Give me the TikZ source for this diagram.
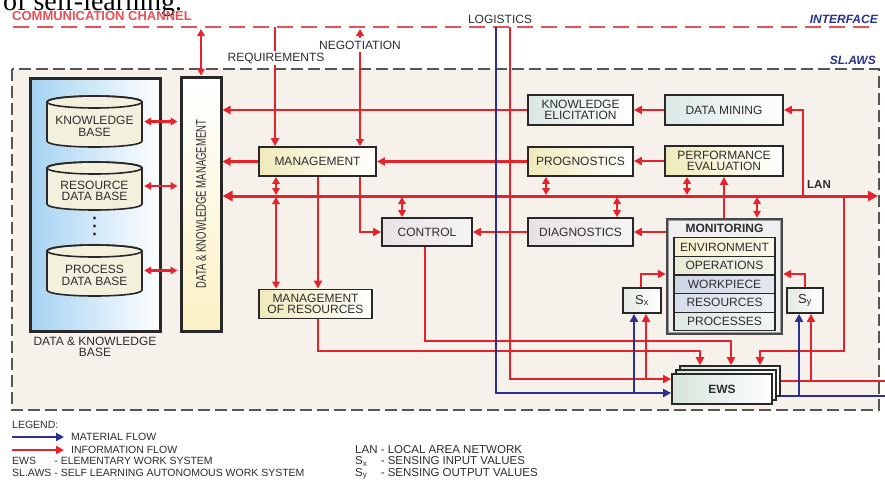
\documentclass[tikz,border=0pt]{standalone}
\usepackage{fontspec}
\setmainfont{Liberation Sans}
\newfontfamily\narrowsans{Liberation Sans}[FakeStretch=0.68]
\newfontfamily\serifface{Liberation Serif}
\usetikzlibrary{arrows.meta,calc}
\definecolor{redl}{RGB}{232,34,42}
\definecolor{bluel}{RGB}{44,48,148}
\definecolor{commred}{RGB}{232,80,88}
\definecolor{boxc}{RGB}{40,40,40}
\definecolor{txt}{RGB}{45,45,45}
\definecolor{bgc}{RGB}{246,241,235}
\definecolor{dashg}{RGB}{85,85,85}
\definecolor{yel}{RGB}{240,234,186}
\definecolor{kbl}{RGB}{218,232,228}
\definecolor{pk}{RGB}{232,226,230}
\definecolor{cylf}{RGB}{243,241,222}
\definecolor{dkbblue}{RGB}{165,210,242}
\definecolor{dkmy}{RGB}{250,242,196}
\definecolor{ewsg}{RGB}{214,228,218}
\definecolor{titleblue}{RGB}{40,50,140}
\definecolor{sxg}{RGB}{228,234,226}
\newcommand\lblfont{\fontsize{12}{11.5}\selectfont}
\newcommand\legfont{\fontsize{10.5}{11.8}\selectfont}
\newcommand\legfontr{\fontsize{11.5}{11.2}\selectfont}
\tikzset{
  lbl/.style={font=\lblfont, text=txt, align=center},
  box/.style={draw=boxc, line width=1.8pt, inner sep=1pt, lbl},
  rl/.style={draw=redl, line width=2.4pt},
  bl/.style={draw=bluel, line width=2.4pt},
  arr/.style={-{Triangle[length=8pt,width=8pt]}},
  darr/.style={{Triangle[length=7pt,width=7.5pt]}-{Triangle[length=7pt,width=7.5pt]}},
  rowbox/.style={draw=boxc, line width=1.2pt, minimum width=101pt, minimum height=18.6pt, inner sep=0pt, lbl},
}
% cylinder: name, cx, ytop, ybottom, text
\newcommand\dbcyl[5]{%
  \filldraw[fill=cylf, draw=boxc, line width=1.6pt]
    (#2-47.5,#3+6) -- (#2-47.5,#4-6)
    .. controls (#2-47.5,#4+2) and (#2+47.5,#4+2) .. (#2+47.5,#4-6)
    -- (#2+47.5,#3+6)
    .. controls (#2+47.5,#3-2) and (#2-47.5,#3-2) .. cycle;
  \draw[boxc, line width=1.6pt] (#2,#3+6) ellipse [x radius=47.5pt, y radius=6pt];
  \node[minimum width=95pt, minimum height=#4-#3, inner sep=0pt] (#1) at (#2,{(#3+#4)/2}) {};
  \node[lbl] at ([yshift=-5pt]#1.center) {#5};
}
\begin{document}
\begin{tikzpicture}[x=1pt,y=-1pt]
\useasboundingbox (0,0) rectangle (885,479);
\fill[white] (0,0) rectangle (885,479);

% clipped caption text at top
\node[anchor=base west, font=\serifface\fontsize{28}{28}\selectfont, inner sep=0pt, text depth=0pt] (captxt) at (3,10) {of self-learning.};

% SL.AWS boundary
\draw[dashg, line width=1.6pt, dash pattern=on 12pt off 5pt, fill=bgc] (12,69) rectangle (879,410);

% communication channel
\coordinate (commL) at (13,27);
\coordinate (commR) at (877,27);
\draw[commred, line width=2pt, dash pattern=on 16pt off 8pt] (commL) -- (commR);
\node[anchor=west, font=\bfseries\fontsize{13}{13}\selectfont, text=commred, inner sep=0pt] (commlbl) at (12,16.5) {COMMUNICATION CHANNEL};
\node[anchor=east, font=\bfseries\itshape\fontsize{12}{12}\selectfont, text=titleblue, inner sep=0pt] (iflbl) at (878,19) {INTERFACE};
\node[anchor=east, font=\bfseries\itshape\fontsize{12}{12}\selectfont, text=titleblue, inner sep=0pt] (slawslbl) at (876,60) {SL.AWS};
\node[lbl, inner sep=0pt] (loglbl) at (500,19) {LOGISTICS};

% Data & knowledge base
\node[draw=boxc, line width=3pt, minimum width=130pt, minimum height=253pt, left color=dkbblue, right color=white, inner sep=0pt] (dkb) at (95,204.5) {};
\node[lbl, anchor=north, inner sep=0pt] (dkblbl) at ([yshift=-4pt]dkb.south) {DATA \& KNOWLEDGE\\BASE};
\dbcyl{kb}{94.5}{96}{147}{KNOWLEDGE\\BASE}
\dbcyl{rdb}{94.5}{162}{210}{RESOURCE\\DATA BASE}
\dbcyl{pdb}{94.5}{245}{296}{PROCESS\\DATA BASE}
\foreach \yy in {218,226,234} \fill[boxc] (94.5,\yy) circle (1.6pt);

% data & knowledge management
\node[draw=boxc, line width=3pt, minimum width=40pt, minimum height=254pt, top color=white, bottom color=dkmy, inner sep=0pt] (dkm) at (201,204) {};
\node[rotate=90, font=\narrowsans\fontsize{14}{14}\selectfont, text=txt] (dkmlbl) at (dkm.center) {DATA \& KNOWLEDGE MANAGEMENT};

% boxes
\node[box, minimum width=117pt, minimum height=29pt, left color=yel, right color=white] (mgmt) at (317.5,161.5) {MANAGEMENT};
\node[box, minimum width=105pt, minimum height=30pt, left color=kbl, right color=white] (ke) at (580.5,110) {KNOWLEDGE\\ELICITATION};
\node[box, minimum width=118pt, minimum height=30pt, left color=kbl, right color=white] (dm) at (724,110) {DATA MINING};
\node[box, minimum width=105pt, minimum height=29pt, left color=yel, right color=white] (prog) at (580.5,161.5) {PROGNOSTICS};
\node[box, minimum width=118pt, minimum height=30pt, left color=yel, right color=white] (pe) at (724,161) {PERFORMANCE\\EVALUATION};
\node[box, minimum width=90pt, minimum height=28pt, left color=pk, right color=white!60!pk] (ctl) at (427,232) {CONTROL};
\node[box, minimum width=105pt, minimum height=28pt, left color=pk, right color=white!60!pk] (diag) at (580.5,232) {DIAGNOSTICS};
\node[box, minimum width=113pt, minimum height=29pt, left color=yel, right color=white] (mor) at (315.5,304) {MANAGEMENT\\OF RESOURCES};

% monitoring
\node[draw=boxc!85, line width=2.4pt, fill=white!94!black, minimum width=115pt, minimum height=115pt, inner sep=0pt] (mon) at (724.5,276.5) {};
\draw[black!40, line width=0.8pt] ([shift={(3pt,3pt)}]mon.south west) rectangle ([shift={(-3pt,-3pt)}]mon.north east);
\node[font=\bfseries\fontsize{12}{12}\selectfont, text=txt] (montitle) at (724.5,228) {MONITORING};
\node[rowbox, left color=yel!70, right color=yel!30] (env) at (724.5,247) {ENVIRONMENT};
\node[rowbox, left color={rgb,255:red,232;green,236;blue,214}, right color={rgb,255:red,244;green,246;blue,236}] (ops) at (724.5,265.6) {OPERATIONS};
\node[rowbox, left color={rgb,255:red,206;green,213;blue,228}, right color={rgb,255:red,228;green,232;blue,240}] (wp) at (724.5,284.2) {WORKPIECE};
\node[rowbox, left color={rgb,255:red,216;green,222;blue,234}, right color={rgb,255:red,236;green,240;blue,244}] (res) at (724.5,302.8) {RESOURCES};
\node[rowbox, left color={rgb,255:red,222;green,234;blue,228}, right color={rgb,255:red,240;green,245;blue,242}] (proc) at (724.5,321.4) {PROCESSES};

% sensors
\node[box, minimum width=38pt, minimum height=25pt, left color=sxg, right color=white, font=\fontsize{13}{13}\selectfont] (sx) at (642,300.5) {S\textsubscript{x}};
\node[box, minimum width=36pt, minimum height=25pt, left color=sxg, right color=white, font=\fontsize{13}{13}\selectfont] (sy) at (805,300.5) {S\textsubscript{y}};

% column coordinates
\coordinate (reqTop) at (275,27);
\coordinate (negTop) at (360,29);
\coordinate (blueTop) at (496,27);
\coordinate (redTop) at (510,27);
\coordinate (lanR) at (878,196);
\coordinate (c276) at (276,0);
\coordinate (c318) at (318,0);
\coordinate (c360) at (360,0);
\coordinate (c402) at (402,0);
\coordinate (c425) at (425,0);
\coordinate (c546) at (546,0);
\coordinate (c617) at (617,0);
\coordinate (c687) at (687,0);
\coordinate (c724) at (724,0);
\coordinate (c757) at (757,0);
\coordinate (c803) at (803,0);
\coordinate (c844) at (844,0);

% comm <-> DKM
\draw[rl,darr] (dkm.north) -- (dkm.north |- negTop);
% requirements
\draw[rl,arr] (reqTop) -- (mgmt.north -| reqTop);
\node[lbl, fill=white, inner sep=2pt] (reqlbl) at (276,58) {REQUIREMENTS};
% negotiation
\draw[rl,darr] (mgmt.north -| negTop) -- (negTop);
\node[lbl, fill=white, inner sep=2.5pt] (neglbl) at (360,45) {NEGOTIATION};

% LAN
\draw[redl, line width=3pt, {Triangle[length=10pt,width=10pt]}-{Triangle[length=10pt,width=10pt]}] (dkm.east |- lanR) -- (lanR);
\node[font=\bfseries\fontsize{11.5}{11.5}\selectfont, text=txt] (lanlbl) at (819,185) {LAN};

% knowledge flows
\draw[rl,arr] (ke.west) -- (ke.west -| dkm.east);
\draw[rl,arr] (dm.west) -- (ke.east);
\draw[rl,arr] (c803 |- lanR) |- (dm.east);
\draw[rl,arr] (prog.west) -- (prog.west -| mgmt.east);
\draw[rl,arr] (pe.west) -- (pe.west -| prog.east);
\draw[rl,arr] (mgmt.west) -- (mgmt.west -| dkm.east);
\draw[rl,arr] (diag.west) -- (ctl.east);
\draw[rl,arr] (mon.west |- diag.west) -- (diag.east);
\draw[rl,arr] (mon.north -| c724) -- (pe.south -| c724);
\draw[rl,arr] (mgmt.south -| c360) |- (ctl.west);
\draw[rl,arr] (mgmt.south -| c318) -- (mor.north -| c318);

% LAN double arrows
\draw[rl,darr,shorten >=1pt] (mgmt.south -| c276) -- (c276 |- lanR);
\draw[rl,darr,shorten <=1pt] (c276 |- lanR) -- (mor.north -| c276);
\draw[rl,darr,shorten >=1pt] (ctl.north -| c402) -- (c402 |- lanR);
\draw[rl,darr,shorten >=1pt] (prog.south -| c546) -- (c546 |- lanR);
\draw[rl,darr,shorten >=1pt] (diag.north -| c617) -- (c617 |- lanR);
\draw[rl,darr,shorten >=1pt] (pe.south -| c687) -- (c687 |- lanR);
\draw[rl,darr,shorten >=1pt] (mon.north -| c757) -- (c757 |- lanR);

% cylinders <-> DKM
\draw[rl,darr,shorten <=2pt,shorten >=2pt] (kb.east) -- (kb.east -| dkm.west);
\draw[rl,darr,shorten <=2pt,shorten >=2pt] (rdb.east) -- (rdb.east -| dkm.west);
\draw[rl,darr,shorten <=2pt,shorten >=2pt] (pdb.east) -- (pdb.east -| dkm.west);

% EWS stack
\node[draw=boxc, line width=1.6pt, minimum width=100pt, minimum height=30pt, left color=ewsg, right color=white, inner sep=0pt] (ews3) at (730,381) {};
\node[draw=boxc, line width=1.6pt, minimum width=100pt, minimum height=30pt, left color=ewsg, right color=white, inner sep=0pt] (ews2) at (726,385) {};

% flows to EWS
\coordinate (m1) at (700,351);
\coordinate (m2) at (731,341);
\coordinate (m3) at (760,351);
\draw[rl,arr] (mor.south -| c318) |- (m1) -- (m1 |- ews3.north);
\draw[rl,arr] (ctl.south -| c425) |- (m2) -- (m2 |- ews3.north);
\draw[rl,arr] (c844 |- lanR) |- (m3) -- (m3 |- ews3.north);

% outputs of EWS
\coordinate (outR) at (885,381);
\coordinate (outB) at (885,396);
\draw[rl] (ews3.east |- outR) -- (outR);
\draw[bl] (ews3.east |- outB) -- (outB);

\node[box, minimum width=100pt, minimum height=30pt, left color=ewsg, right color=white, font=\bfseries\fontsize{12}{12}\selectfont] (ews) at (722,389) {EWS};

% logistics
\draw[bl,arr] (blueTop) |- ([yshift=-4pt]ews.west);
\draw[rl,arr] (redTop) |- ([yshift=10pt]ews.west);

% sensor inputs
\coordinate (sxb) at (634,393);
\coordinate (sxr) at (646,379);
\coordinate (syb) at (799,396);
\coordinate (syr) at (811,381);
\draw[bl,arr] (sxb) -- (sxb |- sx.south);
\draw[rl,arr] (sxr) -- (sxr |- sx.south);
\draw[bl,arr] (syb) -- (syb |- sy.south);
\draw[rl,arr] (syr) -- (syr |- sy.south);
% sensors -> monitoring
\coordinate (sxT) at (641,274);
\coordinate (syT) at (805,274);
\draw[rl,arr] (sx.north -| sxT) |- (sxT -| mon.west);
\draw[rl,arr] (sy.north -| syT) |- (syT -| mon.east);

% legend
\node[anchor=west, font=\legfont, text=txt, inner sep=0pt] (leg) at (12,425) {LEGEND:};
\coordinate (lb1) at (12,437); \coordinate (lb2) at (64,437);
\coordinate (lr1) at (12,450); \coordinate (lr2) at (64,450);
\draw[bl,arr] (lb1) -- (lb2);
\draw[rl,arr] (lr1) -- (lr2);
\node[anchor=west, font=\legfont, text=txt, inner sep=0pt] (legmat) at (71,437) {MATERIAL FLOW};
\node[anchor=west, font=\legfont, text=txt, inner sep=0pt] (leginf) at (71,450) {INFORMATION FLOW};
\node[anchor=north west, font=\legfont, text=txt, inner sep=0pt] (legl) at (12,456.5) {%
  \begin{tabular}{@{}l@{ }l@{}}EWS & - ELEMENTARY WORK SYSTEM\\ SL.AWS & - SELF LEARNING AUTONOMOUS WORK SYSTEM\end{tabular}};
\node[anchor=north west, font=\legfontr, text=txt, inner sep=0pt] (legr) at (355,445) {%
  \begin{tabular}{@{}l@{ }l@{}}LAN & - LOCAL AREA NETWORK\\ S\textsubscript{x} & - SENSING INPUT VALUES\\ S\textsubscript{y} & - SENSING OUTPUT VALUES\end{tabular}};
\end{tikzpicture}
\end{document}
